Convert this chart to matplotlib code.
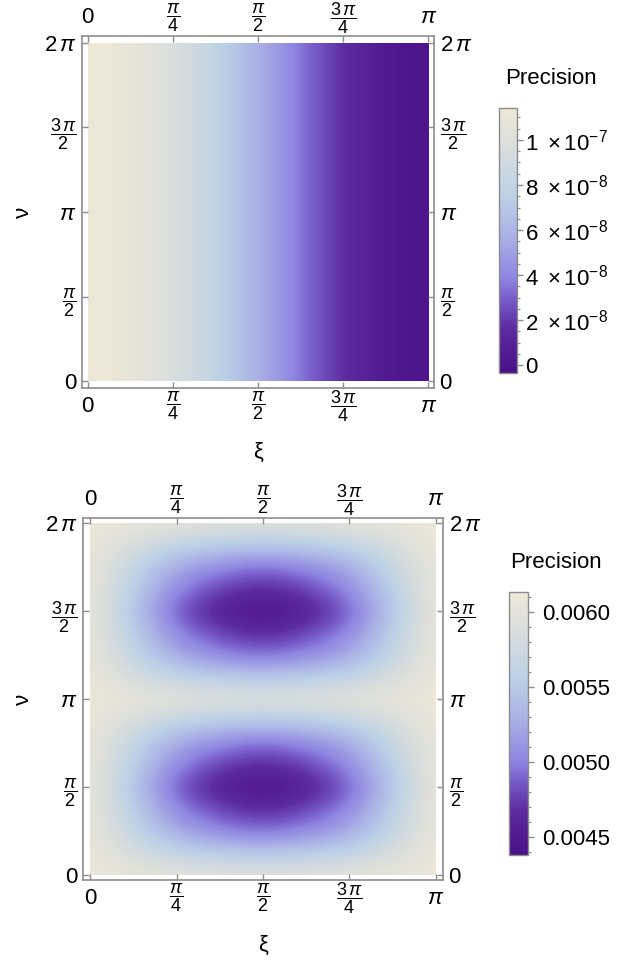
import numpy as np
import matplotlib
matplotlib.use("Agg")
import matplotlib.pyplot as plt
from matplotlib.colors import LinearSegmentedColormap, Normalize
from matplotlib.patches import Rectangle
from matplotlib.ticker import MultipleLocator

plt.rcParams['font.family'] = ['Liberation Sans', 'DejaVu Sans']
plt.rcParams['mathtext.fontset'] = 'custom'
plt.rcParams['mathtext.rm'] = 'Liberation Sans'
plt.rcParams['mathtext.it'] = 'Liberation Sans:italic'
plt.rcParams['mathtext.bf'] = 'Liberation Sans:bold'

PI = np.pi

# --- data -------------------------------------------------------------
# top panel: precision (units of 1e-8) along xi, same for every nu
xi_top = [k * PI / 12 for k in range(13)]
prec_top = [11.4, 11.2, 10.6, 9.7, 8.55, 7.2, 5.7, 4.2, 2.85, 1.67, 0.76, 0.19, 0.0]

# bottom panel: precision (units of 1e-3), rows nu = 0..2pi step pi/8, cols xi = 0..pi step pi/8
prec_bot = [
    [6.10, 6.05, 6.01, 5.99, 5.98, 5.99, 6.01, 6.05, 6.10],
    [6.10, 5.85, 5.62, 5.51, 5.45, 5.51, 5.62, 5.85, 6.10],
    [6.10, 5.65, 5.22, 5.02, 4.91, 5.02, 5.22, 5.65, 6.10],
    [6.10, 5.54, 5.02, 4.77, 4.64, 4.77, 5.02, 5.54, 6.10],
    [6.10, 5.45, 4.84, 4.55, 4.40, 4.55, 4.84, 5.45, 6.10],
    [6.10, 5.54, 5.02, 4.77, 4.64, 4.77, 5.02, 5.54, 6.10],
    [6.10, 5.65, 5.22, 5.02, 4.91, 5.02, 5.22, 5.65, 6.10],
    [6.10, 5.85, 5.62, 5.51, 5.45, 5.51, 5.62, 5.85, 6.10],
    [6.10, 6.05, 6.01, 5.99, 5.98, 5.99, 6.01, 6.05, 6.10],
    [6.10, 5.85, 5.62, 5.51, 5.45, 5.51, 5.62, 5.85, 6.10],
    [6.10, 5.65, 5.22, 5.02, 4.91, 5.02, 5.22, 5.65, 6.10],
    [6.10, 5.54, 5.02, 4.77, 4.64, 4.77, 5.02, 5.54, 6.10],
    [6.10, 5.45, 4.84, 4.55, 4.40, 4.55, 4.84, 5.45, 6.10],
    [6.10, 5.54, 5.02, 4.77, 4.64, 4.77, 5.02, 5.54, 6.10],
    [6.10, 5.65, 5.22, 5.02, 4.91, 5.02, 5.22, 5.65, 6.10],
    [6.10, 5.85, 5.62, 5.51, 5.45, 5.51, 5.62, 5.85, 6.10],
    [6.10, 6.05, 6.01, 5.99, 5.98, 5.99, 6.01, 6.05, 6.10],
]

xi_ticks = [0, PI / 4, PI / 2, 3 * PI / 4, PI]
xi_labels = ['0', r'$\dfrac{\pi}{4}$', r'$\dfrac{\pi}{2}$', r'$\dfrac{3\,\pi}{4}$', r'$\pi$']
nu_ticks = [0, PI / 2, PI, 3 * PI / 2, 2 * PI]
nu_labels = ['0', r'$\dfrac{\pi}{2}$', r'$\pi$', r'$\dfrac{3\,\pi}{2}$', r'$2\,\pi$']

cb_top_ticks = [0, 2, 4, 6, 8, 10]
cb_top_labels = ['0', r'$2\ \times 10^{-8}$', r'$4\ \times 10^{-8}$', r'$6\ \times 10^{-8}$',
                 r'$8\ \times 10^{-8}$', r'$1\ \times 10^{-7}$']
cb_bot_ticks = [4.5, 5.0, 5.5, 6.0]
cb_bot_labels = ['0.0045', '0.0050', '0.0055', '0.0060']

# --- style ------------------------------------------------------------
cmap = LinearSegmentedColormap.from_list('lake', [
    (0.00, '#4a0f87'),
    (0.17, '#5d2c9e'),
    (0.27, '#7558c6'),
    (0.36, '#8f86e1'),
    (0.52, '#abb2e6'),
    (0.68, '#bdd2e6'),
    (0.86, '#dadedc'),
    (1.00, '#eee8d8'),
])
GRAY = '#8c8c8c'
FS = 16
FS_FRAC = 13


def style_frame(ax, pad_x, pad_y):
    ax.set_xlim(-pad_x, PI + pad_x)
    ax.set_ylim(-pad_y, 2 * PI + pad_y)
    ax.set_xticks(xi_ticks, xi_labels)
    ax.set_yticks(nu_ticks, nu_labels)
    ax.tick_params(direction='in', top=True, right=True, labeltop=True, labelright=True,
                   length=4, width=1, color=GRAY, labelsize=FS)
    ax.tick_params(axis='x', pad=13)
    ax.tick_params(axis='y', pad=4)
    for t in ax.xaxis.get_major_ticks():
        t.label1.set_va('center')
        t.label2.set_va('center')
    for t in ax.xaxis.get_major_ticks() + ax.yaxis.get_major_ticks():
        for lab in (t.label1, t.label2):
            if 'frac' in lab.get_text():
                lab.set_fontsize(FS_FRAC)
    for s in ax.spines.values():
        s.set_color(GRAY)
        s.set_linewidth(1.2)
    ax.set_xlabel('ξ', fontsize=FS)
    ax.set_ylabel('ν', fontsize=FS)
    ax.xaxis.label.set_va('center')
    ax.yaxis.label.set_va('center')


def style_cbar(cb, ticks, labels, minor_step, pad):
    cb.set_ticks(ticks, labels=labels)
    cb.ax.yaxis.set_minor_locator(MultipleLocator(minor_step))
    cb.ax.tick_params(which='major', length=4, width=1, color=GRAY, labelsize=FS, pad=pad)
    cb.ax.tick_params(which='minor', length=2.5, width=0.8, color=GRAY)
    cb.outline.set_edgecolor(GRAY)
    cb.outline.set_linewidth(1)


fig = plt.figure(figsize=(6.31, 9.6), dpi=100)
W, H = 631.0, 960.0

# --- top panel --------------------------------------------------------
ax1 = fig.add_axes([82 / W, 1 - 388 / H, 352 / W, 352 / H])
norm1 = Normalize(vmin=-0.35, vmax=11.42)
half = PI / 24
im1 = ax1.imshow([prec_top], cmap=cmap, norm=norm1, origin='lower', aspect='auto',
                 interpolation='bicubic', extent=(xi_top[0] - half, xi_top[-1] + half, 0, 2 * PI))
im1.set_clip_path(Rectangle((0, 0), PI, 2 * PI, transform=ax1.transData))
style_frame(ax1, 0.051, 0.13)
ax1.xaxis.set_label_coords(0.5, -(452 - 388) / 352)
ax1.yaxis.set_label_coords(-(82 - 23) / 352, 0.5)

cax1 = fig.add_axes([499 / W, 1 - 373 / H, 18 / W, 265 / H])
cb1 = fig.colorbar(im1, cax=cax1)
style_cbar(cb1, cb_top_ticks, cb_top_labels, 0.5, 2)
fig.text(505 / W, 1 - 78 / H, 'Precision', ha='left', va='center', fontsize=FS)

# --- bottom panel -----------------------------------------------------
ax2 = fig.add_axes([83 / W, 1 - 880 / H, 360 / W, 362 / H])
norm2 = Normalize(vmin=4.38, vmax=6.13)
hx, hy = PI / 16, PI / 16
im2 = ax2.imshow(prec_bot, cmap=cmap, norm=norm2, origin='lower', aspect='auto',
                 interpolation='bicubic', extent=(-hx, PI + hx, -hy, 2 * PI + hy))
im2.set_clip_path(Rectangle((0, 0), PI, 2 * PI, transform=ax2.transData))
style_frame(ax2, 0.064, 0.098)
ax2.xaxis.set_label_coords(0.5, -(945 - 880) / 362)
ax2.yaxis.set_label_coords(-(83 - 23) / 360, 0.5)

cax2 = fig.add_axes([509 / W, 1 - 855 / H, 19 / W, 263 / H])
cb2 = fig.colorbar(im2, cax=cax2)
style_cbar(cb2, cb_bot_ticks, cb_bot_labels, 0.1, 6)
fig.text(510 / W, 1 - 562 / H, 'Precision', ha='left', va='center', fontsize=FS)

fig.savefig('out.png', dpi=100)
